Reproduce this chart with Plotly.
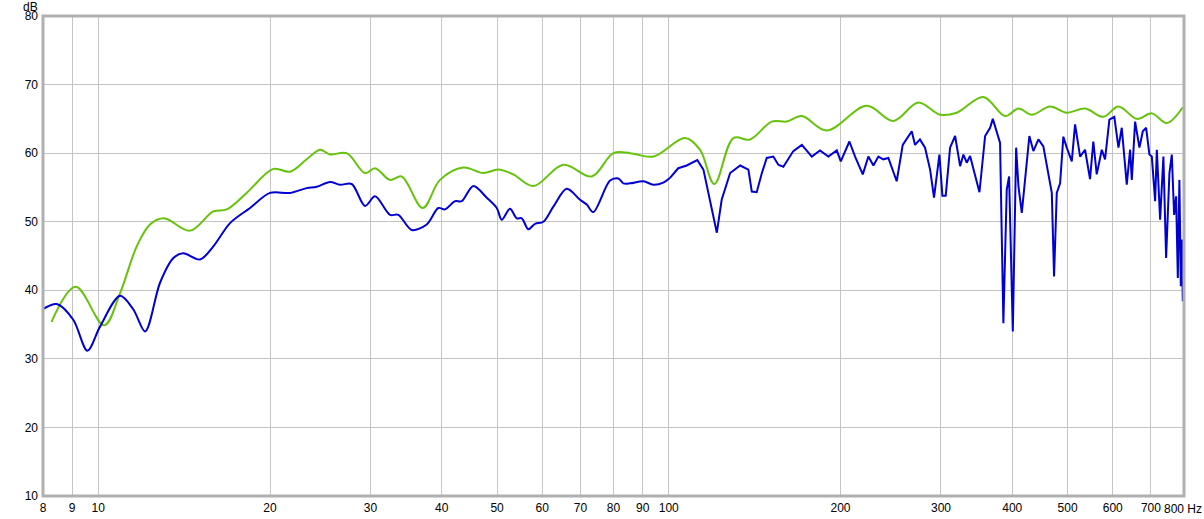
import plotly.graph_objects as go
import math

# ---- data ----
green_freq = [8.28, 9.13, 10.24, 10.92, 11.68, 12.32, 13.04, 14.48, 15.91, 16.80, 18.20, 20.27, 21.68,
              23.19, 24.47, 25.48, 27.25, 29.35, 30.56, 32.46, 34.03, 37.05, 39.72, 43.63, 47.30, 50.24,
              53.39, 57.89, 65.34, 73.27, 79.96, 85.54, 93.96, 106.8, 113.4, 120.2, 129.8, 138.8, 151.5,
              161.0, 171.1, 189.2, 222.3, 247.5, 273.8, 298.9, 319.7, 355.9, 388.6, 410.1, 432.8, 465.9,
              498.4, 536.6, 577.9, 614.0, 661.3, 702.6, 746.3, 796.1]
green_db = [35.4, 40.5, 34.9, 39.6, 46.4, 49.6, 50.5, 48.7, 51.5, 51.8, 54.2, 57.7, 57.3,
            59.1, 60.5, 59.8, 60.0, 57.1, 57.8, 56.1, 56.6, 52.0, 56.1, 57.9, 57.1, 57.6,
            56.9, 55.2, 58.3, 56.6, 60.0, 60.0, 59.5, 62.2, 60.5, 55.5, 62.2, 62.0, 64.6,
            64.6, 65.4, 63.3, 66.9, 64.7, 67.4, 65.6, 65.9, 68.2, 65.4, 66.5, 65.6, 66.8,
            65.9, 66.5, 65.3, 66.8, 65.0, 65.8, 64.4, 66.7]

blue_freq = [8.01, 8.46, 9.04, 9.57, 10.07, 10.92, 11.52, 12.08, 12.83, 13.54, 14.09, 15.08, 15.91,
             17.02, 18.45, 20.0, 21.68, 23.19, 24.15, 25.48, 26.53, 27.81, 29.35, 30.56, 32.46, 33.57,
             35.43, 37.64, 39.45, 40.54, 42.21, 43.36, 45.44, 47.97, 49.94, 50.96, 52.68, 54.13, 55.24,
             56.74, 58.29, 60.28, 62.76, 66.24, 69.89, 71.81, 73.74, 78.89, 81.58, 83.24, 85.54, 90.25,
             93.96, 97.8, 100.5, 103.9, 107.5, 112.2, 115.0, 118.1, 121.4, 123.8, 128.1, 133.4, 137.9,
             139.8, 142.6, 145.6, 148.5, 152.5, 155.6, 158.8, 165.3, 171.1, 178.1, 184.1, 190.4, 197.0,
             200.2, 207.3, 212.1, 218.8, 223.8, 228.4, 233.0, 237.7, 242.6, 250.9, 257.1, 266.6, 270.2,
             275.6, 281.3, 287.1, 291.7, 298.1, 301.7, 305.8, 311.2, 317.6, 324.1, 328.4, 332.9, 337.4,
             342.0, 350.4, 358.5, 365.8, 369.8, 375.8, 380.8, 385.9, 391.2, 394.9, 400.9, 406.3, 410.1,
             415.7, 421.3, 428.6, 435.6, 444.5, 453.5, 462.8, 469.2, 473.5, 478.7, 485.2, 491.6, 498.4,
             508.6, 515.4, 526.0, 536.6, 547.5, 554.8, 562.5, 574.1, 581.7, 592.0, 603.9, 614.0, 622.3,
             635.0, 643.6, 648.0, 656.7, 668.3, 677.5, 686.6, 695.8, 702.6, 712.0, 716.9, 726.5, 736.2,
             744.3, 754.3, 761.6, 768.7, 774.9, 780.3, 785.3, 789.8, 793.9, 796.1]
blue_db = [37.3, 38.0, 35.7, 31.2, 34.7, 39.2, 37.2, 34.0, 41.1, 44.7, 45.4, 44.5, 46.4,
           49.8, 52.0, 54.2, 54.2, 54.9, 55.1, 55.8, 55.4, 55.5, 52.3, 53.7, 51.0, 51.0,
           48.8, 49.6, 52.0, 51.8, 53.0, 53.0, 55.2, 53.5, 52.0, 50.3, 51.9, 50.5, 50.5,
           48.9, 49.7, 50.0, 52.2, 54.8, 53.2, 52.5, 51.4, 56.0, 56.3, 55.6, 55.6, 55.9,
           55.4, 55.7, 56.4, 57.8, 58.2, 59.0, 57.6, 53.2, 48.4, 53.2, 57.1, 58.2, 57.6,
           54.4, 54.3, 57.1, 59.3, 59.5, 58.3, 58.0, 60.3, 61.2, 59.5, 60.4, 59.5, 60.4,
           58.8, 61.7, 59.5, 56.9, 59.5, 58.2, 59.5, 59.1, 59.3, 55.9, 61.2, 63.2, 61.2,
           62.0, 60.8, 57.6, 53.5, 59.8, 53.8, 53.8, 60.8, 62.5, 58.1, 59.8, 58.6, 59.6,
           57.6, 54.3, 62.5, 63.7, 65.0, 63.2, 61.5, 35.2, 54.7, 56.6, 34.0, 60.8, 55.2,
           51.3, 56.6, 62.5, 60.3, 62.0, 61.0, 57.1, 54.2, 42.0, 54.2, 55.6, 62.4, 60.8,
           58.8, 64.2, 59.5, 60.5, 56.2, 61.7, 56.9, 60.5, 59.1, 64.9, 65.3, 60.8, 63.7,
           55.4, 60.5, 56.1, 64.6, 60.8, 63.2, 63.7, 59.8, 59.5, 53.0, 60.5, 50.3, 59.5,
           44.7, 57.1, 59.8, 51.0, 53.7, 41.8, 56.1, 40.6, 47.4, 38.4]

x_tick_vals = [8, 9, 10, 20, 30, 40, 50, 60, 70, 80, 90, 100, 200, 300, 400, 500, 600, 700, 800]
x_tick_text = ["8", "9", "10", "20", "30", "40", "50", "60", "70", "80", "90", "100",
               "200", "300", "400", "500", "600", "700", ""]
y_tick_vals = [10, 20, 30, 40, 50, 60, 70, 80]

GREEN = "#66c30c"
BLUE = "#0000d2"
FONT = "Liberation Sans, Arial, sans-serif"

L, R, T, B = 43, 20, 16, 23
PW = 1204 - L - R
PH = 519 - T - B

# split the blue curve: smooth low-frequency part, jagged high-frequency part
split = 100.5
lo = [(f, d) for f, d in zip(blue_freq, blue_db) if f <= split]
hi = [(f, d) for f, d in zip(blue_freq, blue_db) if f >= split]

fig = go.Figure()
fig.add_trace(go.Scatter(x=green_freq, y=green_db, mode="lines",
                         line=dict(color=GREEN, width=2, shape="spline", smoothing=1.0),
                         hoverinfo="skip", showlegend=False))
fig.add_trace(go.Scatter(x=[p[0] for p in lo], y=[p[1] for p in lo], mode="lines",
                         line=dict(color=BLUE, width=2, shape="spline", smoothing=0.9),
                         hoverinfo="skip", showlegend=False))
fig.add_trace(go.Scatter(x=[p[0] for p in hi], y=[p[1] for p in hi], mode="lines",
                         line=dict(color=BLUE, width=2),
                         hoverinfo="skip", showlegend=False))

fig.update_layout(
    width=1204, height=519,
    margin=dict(l=L, r=R, t=T, b=B, autoexpand=False),
    paper_bgcolor="white", plot_bgcolor="white",
    font=dict(family=FONT, size=12, color="black"),
    xaxis=dict(type="log", range=[math.log10(8), math.log10(800)],
               tickvals=x_tick_vals, ticktext=x_tick_text, automargin=False,
               showgrid=True, gridcolor="#c4c4c4", gridwidth=1,
               zeroline=False, showline=False, ticks="", ticklabelstandoff=3,
               tickfont=dict(family=FONT, size=12, color="black")),
    yaxis=dict(range=[10, 80], tickvals=y_tick_vals, automargin=False,
               showgrid=True, gridcolor="#c4c4c4", gridwidth=1,
               zeroline=False, showline=False, ticks="", ticklabelstandoff=4,
               tickfont=dict(family=FONT, size=12, color="black")),
    shapes=[dict(type="rect", xref="paper", yref="paper", x0=0, x1=1, y0=0, y1=1,
                 line=dict(color="#b0b0b0", width=3), layer="above")],
    annotations=[
        dict(text="dB", xref="paper", yref="paper", x=(30 - L) / PW, y=1 + (T - 7) / PH,
             xanchor="center", yanchor="middle", showarrow=False,
             font=dict(family=FONT, size=12, color="black")),
        dict(text="800 Hz", xref="paper", yref="paper", x=(1162 - L) / PW, y=-(509 - (519 - B)) / PH,
             xanchor="left", yanchor="middle", showarrow=False,
             font=dict(family=FONT, size=12, color="black")),
    ],
)

fig.write_html("out.html", config={"displayModeBar": False},
               post_script="document.body.style.margin='0';document.body.style.overflow='hidden';")
